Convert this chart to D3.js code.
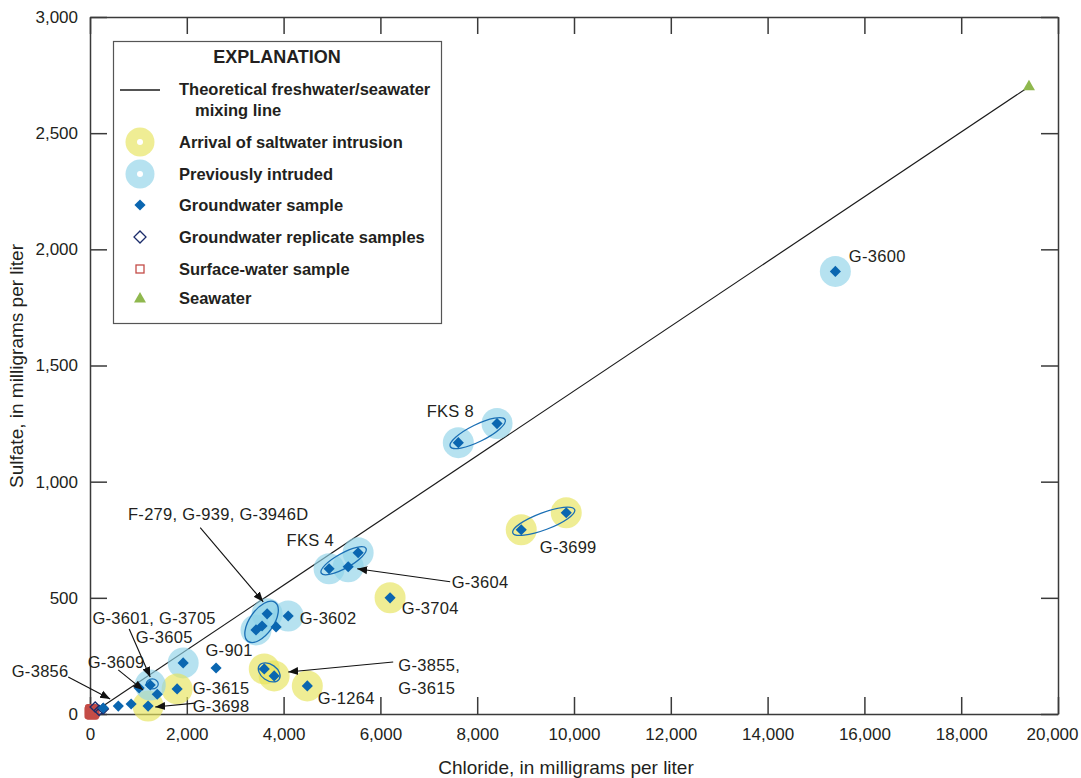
<!DOCTYPE html>
<html>
<head>
<meta charset="utf-8">
<script src="https://cdn.jsdelivr.net/npm/d3@7"></script>
<style>
  body { margin: 0; background: #fff; }
  svg { display: block; }
  text { font-family: "Liberation Sans Narrow", "Arial Narrow", sans-serif; fill: #231f20; }
</style>
</head>
<body>
<div class="chart"></div>
<script>
// Chloride vs sulfate, groundwater samples
// values (mg/L)
var sampleIds   = ["G-3600","FKS 8","FKS 8","G-3699","G-3699","FKS 4","G-3604","FKS 4","G-3704",
                   "F-279","G-939","G-3946D","G-3946D","G-3602","G-3855","G-3615","G-1264","G-901",
                   "G-3605","G-3615","G-3698","G-3601","G-3705","G-3609","G-3609","G-3609","G-3856"];
var chloride    = [15400, 7610, 8410, 8910, 9840, 4940, 5335, 5540, 6200,
                   3430, 3555, 3660, 3845, 4095, 3600, 3805, 4490, 2605,
                   1925, 1800, 1200, 1245, 1390, 1015, 850, 585, 275];
var sulfate     = [1905, 1168, 1250, 793, 866, 625, 634, 694, 500,
                   362, 379, 431, 375, 422, 194, 164, 121, 198,
                   220, 108, 34, 125, 85, 112, 43, 34, 26];
// "arrival" = arrival of saltwater intrusion, "intruded" = previously intruded
var haloType    = ["intruded","intruded","intruded","arrival","arrival","intruded","intruded","intruded","arrival",
                   "intruded","none","intruded","none","intruded","arrival","arrival","arrival","none",
                   "intruded","arrival","arrival","intruded","none","none","none","none","none"];

var replicateCl  = [107, 190, 273];
var replicateSO4 = [30, 15, 22];

var surfaceCl  = [25, 45, 60, 35];
var surfaceSO4 = [6, 4, 10, 14];

var seawaterCl = 19400, seawaterSO4 = 2700;
var freshCl = 200, freshSO4 = 25;

// replicate pairs circled with an ellipse: [index a, index b, extra length, half width, filled]
var ellipsePairs = [[1, 2, 9, 8.5, false], [3, 4, 9, 8.5, false], [5, 7, 9, 7.5, false],
                    [14, 15, 6, 8, false], [9, 11, 14, 12, true]];

var xTicks = [0, 2000, 4000, 6000, 8000, 10000, 12000, 14000, 16000, 18000, 20000];
var yTicks = [0, 500, 1000, 1500, 2000, 2500, 3000];

// annotation labels: [text, chloride, sulfate, anchor]
var labels = [
  ["G-3600", 16265, 1970, "middle"], ["FKS 8", 7445, 1302, "middle"], ["G-3699", 9880, 716, "middle"],
  ["FKS 4", 4550, 750, "middle"], ["G-3604", 8060, 569, "middle"], ["G-3704", 7030, 457, "middle"],
  ["G-3602", 4920, 414, "middle"], ["F-279, G-939, G-3946D", 2650, 858, "middle"], ["G-901", 2875, 276, "middle"],
  ["G-3601, G-3705", 1325, 414, "middle"], ["G-3605", 1535, 332, "middle"], ["G-3609", 540, 224, "middle"],
  ["G-3856", -1030, 185, "middle"], ["G-3615", 2710, 112, "middle"], ["G-3698", 2710, 34, "middle"],
  ["G-3855,", 6370, 210, "start"], ["G-3615", 6370, 113, "start"], ["G-1264", 5295, 69, "middle"]
];
// arrows: [fromCl, fromSO4, toCl, toSO4]
var arrows = [
  [-450, 159, 417, 65], [583, 190, 1099, 103], [810, 366, 1244, 159], [2277, 802, 3579, 483],
  [7442, 569, 5521, 625], [6264, 224, 4095, 181], [2174, 47, 1347, 30]
];

var svgWidth = 1081, svgHeight = 778;
var margin = { top: 17, right: 23, bottom: 64, left: 90 };
var width = svgWidth - margin.left - margin.right;
var height = svgHeight - margin.top - margin.bottom;

var yellow = "#e6e35a", blue = "#8fd3e8", diamondBlue = "#0a66b0", ringBlue = "#1a6fb5";

var svg = d3.select(".chart").append("svg")
  .attr("width", svgWidth)
  .attr("height", svgHeight);

var defs = svg.append("defs");
defs.append("marker")
  .attr("id", "arrow")
  .attr("viewBox", "0 0 10 10")
  .attr("refX", 10).attr("refY", 5)
  .attr("markerWidth", 10).attr("markerHeight", 10)
  .attr("markerUnits", "userSpaceOnUse")
  .attr("orient", "auto")
  .append("path").attr("d", "M0,1 L10,5 L0,9 Z").attr("fill", "#111");

var chartGroup = svg.append("g")
  .attr("transform", `translate(${margin.left}, ${margin.top})`);

var xScale = d3.scaleLinear().domain([0, 20000]).range([0, width]);
var yScale = d3.scaleLinear().domain([0, 3000]).range([height, 0]);

// axes, ticks inside on all four sides
var fmt = d3.format(",");
var xAxisG = chartGroup.append("g").attr("class", "axis")
  .attr("transform", `translate(0,${height})`)
  .call(d3.axisBottom(xScale).tickValues(xTicks).tickSizeInner(-17).tickSizeOuter(0).tickPadding(14).tickFormat(fmt));
chartGroup.append("g").attr("class", "axis")
  .call(d3.axisLeft(yScale).tickValues(yTicks).tickSizeInner(-17).tickSizeOuter(0).tickPadding(12).tickFormat(fmt));
chartGroup.append("g").attr("class", "axis")
  .call(d3.axisTop(xScale).tickValues(xTicks).tickSizeInner(-17).tickSizeOuter(0).tickFormat(""));
chartGroup.append("g").attr("class", "axis")
  .attr("transform", `translate(${width},0)`)
  .call(d3.axisRight(yScale).tickValues(yTicks).tickSizeInner(-17).tickSizeOuter(0).tickFormat(""));

chartGroup.selectAll(".axis path, .axis line").attr("stroke", "#3a3a3a").attr("stroke-width", 1.5);
chartGroup.selectAll(".axis text")
  .attr("font-family", "Liberation Sans Narrow")
  .attr("font-size", "17px")
  .attr("fill", "#333");
// last x label sits inside the page edge
xAxisG.selectAll(".tick text").filter(d => d === 20000).attr("dx", "-6");

// mixing line
chartGroup.append("line")
  .attr("x1", xScale(freshCl)).attr("y1", yScale(freshSO4))
  .attr("x2", xScale(seawaterCl)).attr("y2", yScale(seawaterSO4))
  .attr("stroke", "#1a1a1a").attr("stroke-width", 1.2);

function ellipseAttrs(sel) {
  sel.attr("transform", function(d) {
      var ax = xScale(chloride[d[0]]), ay = yScale(sulfate[d[0]]);
      var bx = xScale(chloride[d[1]]), by = yScale(sulfate[d[1]]);
      var ang = Math.atan2(by - ay, bx - ax) * 180 / Math.PI;
      return `translate(${(ax + bx) / 2},${(ay + by) / 2}) rotate(${ang})`;
    })
    .attr("rx", function(d) {
      var dx = xScale(chloride[d[1]]) - xScale(chloride[d[0]]);
      var dy = yScale(sulfate[d[1]]) - yScale(sulfate[d[0]]);
      return Math.sqrt(dx * dx + dy * dy) / 2 + d[2];
    })
    .attr("ry", d => d[3]);
}

// filled ellipse under halos
chartGroup.selectAll(".efill")
  .data(ellipsePairs.filter(d => d[4]))
  .enter().append("ellipse")
  .attr("class", "efill")
  .call(ellipseAttrs)
  .attr("fill", blue).attr("fill-opacity", 0.65);

// halos
var haloIdx = d3.range(chloride.length).filter(i => haloType[i] !== "none");
chartGroup.selectAll(".halo")
  .data(haloIdx)
  .enter().append("circle")
  .attr("class", "halo")
  .attr("cx", i => xScale(chloride[i]))
  .attr("cy", i => yScale(sulfate[i]))
  .attr("r", 15.5)
  .attr("fill", i => haloType[i] === "arrival" ? yellow : blue)
  .attr("fill-opacity", 0.65);

// ellipse outlines
chartGroup.selectAll(".eline")
  .data(ellipsePairs)
  .enter().append("ellipse")
  .attr("class", "eline")
  .call(ellipseAttrs)
  .attr("fill", "none").attr("stroke", ringBlue).attr("stroke-width", 1.3);
chartGroup.append("ellipse")
  .attr("cx", xScale(chloride[21]) + 2).attr("cy", yScale(sulfate[21]) - 1)
  .attr("rx", 6).attr("ry", 5)
  .attr("fill", "none").attr("stroke", ringBlue).attr("stroke-width", 1.2);

// surface-water samples
chartGroup.selectAll(".surf")
  .data(d3.range(surfaceCl.length))
  .enter().append("rect")
  .attr("x", i => xScale(surfaceCl[i]) - 6)
  .attr("y", i => yScale(surfaceSO4[i]) - 6)
  .attr("width", 12).attr("height", 12)
  .attr("rx", 2)
  .attr("fill", "#c44c47").attr("stroke", "#c44c47").attr("stroke-width", 1.5);

// replicate samples
var diamond = d3.symbol().type(d3.symbolSquare).size(62);
chartGroup.selectAll(".rep")
  .data(d3.range(replicateCl.length))
  .enter().append("path")
  .attr("d", d3.symbol().type(d3.symbolSquare).size(52))
  .attr("transform", i => `translate(${xScale(replicateCl[i])},${yScale(replicateSO4[i])}) rotate(45)`)
  .attr("fill", "none").attr("stroke", "#1c2d6b").attr("stroke-width", 1.4);

// groundwater samples
chartGroup.selectAll(".gw")
  .data(d3.range(chloride.length))
  .enter().append("path")
  .attr("class", "gw")
  .attr("d", diamond)
  .attr("transform", i => `translate(${xScale(chloride[i])},${yScale(sulfate[i])}) rotate(45)`)
  .attr("fill", diamondBlue);

// seawater
chartGroup.append("path")
  .attr("d", d3.symbol().type(d3.symbolTriangle).size(62))
  .attr("transform", `translate(${xScale(seawaterCl)},${yScale(seawaterSO4)})`)
  .attr("fill", "#8fb84e");

// arrows
chartGroup.selectAll(".arrow")
  .data(arrows)
  .enter().append("line")
  .attr("x1", d => xScale(d[0])).attr("y1", d => yScale(d[1]))
  .attr("x2", d => xScale(d[2])).attr("y2", d => yScale(d[3]))
  .attr("stroke", "#111").attr("stroke-width", 1.1)
  .attr("marker-end", "url(#arrow)");

// labels
chartGroup.selectAll(".lbl")
  .data(labels)
  .enter().append("text")
  .attr("x", d => xScale(d[1]))
  .attr("y", d => yScale(d[2]))
  .attr("dy", "0.35em")
  .attr("text-anchor", d => d[3])
  .attr("font-size", "16.5px")
  .attr("letter-spacing", "0.3px")
  .text(d => d[0]);

// axis titles
svg.append("text")
  .attr("x", margin.left + width / 2 - 8)
  .attr("y", 774)
  .attr("text-anchor", "middle")
  .attr("font-size", "19px")
  .attr("fill", "#333")
  .text("Chloride, in milligrams per liter");
svg.append("text")
  .attr("transform", `translate(23, ${366})rotate(270)`)
  .attr("text-anchor", "middle")
  .attr("font-size", "19px")
  .attr("fill", "#333")
  .text("Sulfate, in milligrams per liter");

// explanation box
var legend = svg.append("g");
legend.append("rect")
  .attr("x", 113.5).attr("y", 41.5).attr("width", 328).attr("height", 282)
  .attr("fill", "#fff").attr("stroke", "#555").attr("stroke-width", 1.2);
legend.append("text")
  .attr("x", 277).attr("y", 57).attr("dy", "0.35em")
  .attr("text-anchor", "middle").attr("font-weight", "bold").attr("font-size", "18px")
  .text("EXPLANATION");

var legendItems = ["Theoretical freshwater/seawater", "Arrival of saltwater intrusion", "Previously intruded",
                   "Groundwater sample", "Groundwater replicate samples", "Surface-water sample", "Seawater"];
var legendY = [89, 142, 174, 205, 237, 269, 298];
legend.selectAll(".lt")
  .data(legendItems)
  .enter().append("text")
  .attr("x", 179).attr("y", (d, i) => legendY[i]).attr("dy", "0.35em")
  .attr("font-weight", "bold").attr("font-size", "16.5px")
  .text(d => d);
legend.append("text")
  .attr("x", 195).attr("y", 110).attr("dy", "0.35em")
  .attr("font-weight", "bold").attr("font-size", "16.5px")
  .text("mixing line");

legend.append("line").attr("x1", 120).attr("x2", 160).attr("y1", 90).attr("y2", 90)
  .attr("stroke", "#1a1a1a").attr("stroke-width", 1.5);
[[142, yellow], [174, blue]].forEach(function(c) {
  legend.append("circle").attr("cx", 140).attr("cy", c[0]).attr("r", 14.5).attr("fill", c[1]).attr("fill-opacity", 0.65);
  legend.append("circle").attr("cx", 140).attr("cy", c[0]).attr("r", 3).attr("fill", "#fff");
});
legend.append("path").attr("d", diamond).attr("transform", "translate(140,205) rotate(45)").attr("fill", diamondBlue);
legend.append("path").attr("d", d3.symbol().type(d3.symbolSquare).size(72))
  .attr("transform", "translate(140,237) rotate(45)")
  .attr("fill", "none").attr("stroke", "#1c2d6b").attr("stroke-width", 1.3);
legend.append("rect").attr("x", 136).attr("y", 265).attr("width", 8).attr("height", 8)
  .attr("fill", "none").attr("stroke", "#c44c47").attr("stroke-width", 1.3);
legend.append("path").attr("d", d3.symbol().type(d3.symbolTriangle).size(62))
  .attr("transform", "translate(140,299)").attr("fill", "#8fb84e");
</script>
</body>
</html>
